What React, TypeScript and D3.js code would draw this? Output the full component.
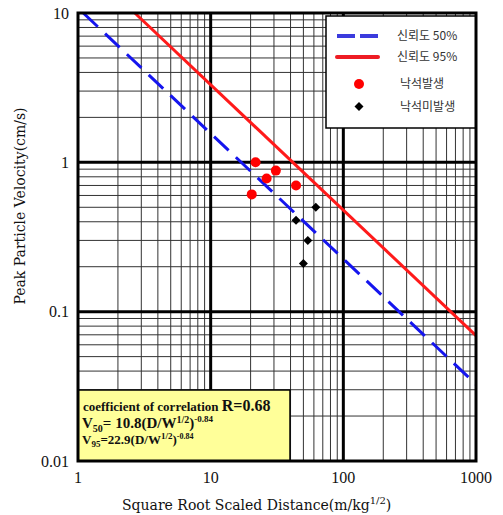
import React from 'react'
import { scaleLog, range } from 'd3'

// measured points (scaled distance, PPV)
const rockfallX = [21.8, 31, 26.4, 44, 20.4]
const rockfallY = [1.0, 0.88, 0.78, 0.7, 0.61]
const noRockfallX = [62, 44, 54, 50]
const noRockfallY = [0.5, 0.41, 0.3, 0.21]

// regression lines V = K * D^-0.84
const lineK = [10.8, 22.9]
const lineExp = -0.84
const legendLabels = ['신뢰도 50%', '신뢰도 95%', '낙석발생', '낙석미발생']

const xTicks = [1, 10, 100, 1000]
const yTicks = [0.01, 0.1, 1, 10]

const W = 503, H = 515
const left = 78, right = 476, top = 13, bottom = 461

function App() {
  const x = scaleLog().domain([1, 1000]).range([left, right])
  const y = scaleLog().domain([0.01, 10]).range([bottom, top])

  const minorX: number[] = []
  ;[1, 10, 100].forEach(d => range(2, 10).forEach(m => minorX.push(d * m)))
  const minorY: number[] = []
  ;[0.01, 0.1, 1].forEach(d => range(2, 10).forEach(m => minorY.push(d * m)))

  // clip lines to the plot window
  const linePts = (k: number) => {
    const xStart = Math.max(1, Math.pow(10 / k, 1 / lineExp))
    return [[xStart, k * Math.pow(xStart, lineExp)], [1000, k * Math.pow(1000, lineExp)]]
  }
  const l50 = linePts(lineK[0])
  const l95 = linePts(lineK[1])

  const serif = '"DejaVu Serif", serif'
  const boldSerif = '"Liberation Serif", serif'

  return (
    <svg width={W} height={H} style={{ position: 'absolute', left: 0, top: 0, background: '#fff' }}>
      {/* minor grid */}
      {minorX.map(v => (
        <line key={'mx' + v} x1={x(v)} x2={x(v)} y1={top} y2={bottom} stroke="#333" strokeWidth={1} />
      ))}
      {minorY.map(v => (
        <line key={'my' + v} x1={left} x2={right} y1={y(v)} y2={y(v)} stroke="#333" strokeWidth={1} />
      ))}
      {/* major grid */}
      {[10, 100].map(v => (
        <line key={'Mx' + v} x1={x(v)} x2={x(v)} y1={top} y2={bottom} stroke="#000" strokeWidth={3} />
      ))}
      {[0.1, 1].map(v => (
        <line key={'My' + v} x1={left} x2={right} y1={y(v)} y2={y(v)} stroke="#000" strokeWidth={3} />
      ))}

      {/* regression lines */}
      <line x1={x(l50[0][0])} y1={y(l50[0][1])} x2={x(l50[1][0])} y2={y(l50[1][1])}
        stroke="#1515ee" strokeWidth={3} strokeDasharray="20,10" />
      <line x1={x(l95[0][0])} y1={y(l95[0][1])} x2={x(l95[1][0])} y2={y(l95[1][1])}
        stroke="#ff1a1a" strokeWidth={3} />

      {/* points */}
      {rockfallX.map((v, i) => (
        <circle key={'r' + i} cx={x(v)} cy={y(rockfallY[i])} r={5} fill="#ff0000" />
      ))}
      {noRockfallX.map((v, i) => {
        const cx = x(v), cy = y(noRockfallY[i]), s = 4.5
        return <path key={'d' + i} d={`M${cx},${cy - s}L${cx + s},${cy}L${cx},${cy + s}L${cx - s},${cy}Z`} fill="#000" />
      })}

      {/* equation box */}
      <rect x={left} y={390} width={212} height={bottom - 390} fill="#ffff99" stroke="#000" strokeWidth={1.5} />
      <text x={83} y={411} fontFamily={boldSerif} fontWeight="bold" fontSize={13} fill="#111">
        coefficient of correlation <tspan fontSize={16}>R=0.68</tspan>
      </text>
      <text x={82} y={428} fontFamily={boldSerif} fontWeight="bold" fontSize={15} fill="#111">
        V<tspan fontSize={10} dy={4}>50</tspan><tspan dy={-4}>= 10.8(D/W</tspan>
        <tspan fontSize={10} dy={-5}>1/2</tspan><tspan dy={5}>)</tspan>
        <tspan fontSize={9} dy={-6}>-0.84</tspan>
      </text>
      <text x={82} y={444} fontFamily={boldSerif} fontWeight="bold" fontSize={13} fill="#111">
        V<tspan fontSize={9} dy={3}>95</tspan><tspan dy={-3}>=22.9(D/W</tspan>
        <tspan fontSize={9} dy={-5}>1/2</tspan><tspan dy={5}>)</tspan>
        <tspan fontSize={8} dy={-5}>-0.84</tspan>
      </text>

      {/* legend */}
      <rect x={326} y={16} width={right - 326} height={112} fill="#fff" stroke="#000" strokeWidth={1.5} />
      <line x1={337} x2={378} y1={36} y2={36} stroke="#3b3bdd" strokeWidth={4} strokeDasharray="18,5" />
      <line x1={337} x2={378} y1={57} y2={57} stroke="#ee1c24" strokeWidth={4} strokeLinecap="round" />
      <circle cx={359} cy={84} r={5} fill="#ff0000" />
      <path d="M359,102L363.5,106.5L359,111L354.5,106.5Z" fill="#000" />
      {legendLabels.map((t, i) => (
        <text key={t} x={i < 2 ? 397 : 400} y={[36, 57, 84, 107][i]} dy="0.35em"
          fontFamily='"Noto Sans CJK KR", sans-serif' fontSize={12} fill="#333">{t}</text>
      ))}

      {/* frame */}
      <rect x={left} y={top} width={right - left} height={bottom - top} fill="none" stroke="#000" strokeWidth={3} />

      {/* tick labels */}
      {yTicks.map(v => (
        <text key={'yt' + v} x={69} y={y(v)} dy="0.35em" textAnchor="end"
          fontFamily={boldSerif} fontSize={16} fill="#111">{String(v)}</text>
      ))}
      {xTicks.map(v => (
        <text key={'xt' + v} x={x(v)} y={483} textAnchor="middle"
          fontFamily={boldSerif} fontSize={16} fill="#111">{String(v)}</text>
      ))}

      {/* axis titles */}
      <text x={122} y={510} fontFamily={serif} fontSize={14} fill="#111">
        Square Root Scaled Distance(m/kg<tspan fontSize={10} dy={-6}>1/2</tspan><tspan dy={6}>)</tspan>
      </text>
      <text transform="translate(25,206) rotate(-90)" textAnchor="middle" fontFamily={serif} fontSize={14} fill="#111">
        Peak Particle Velocity(cm/s)
      </text>
    </svg>
  )
}

export default App
